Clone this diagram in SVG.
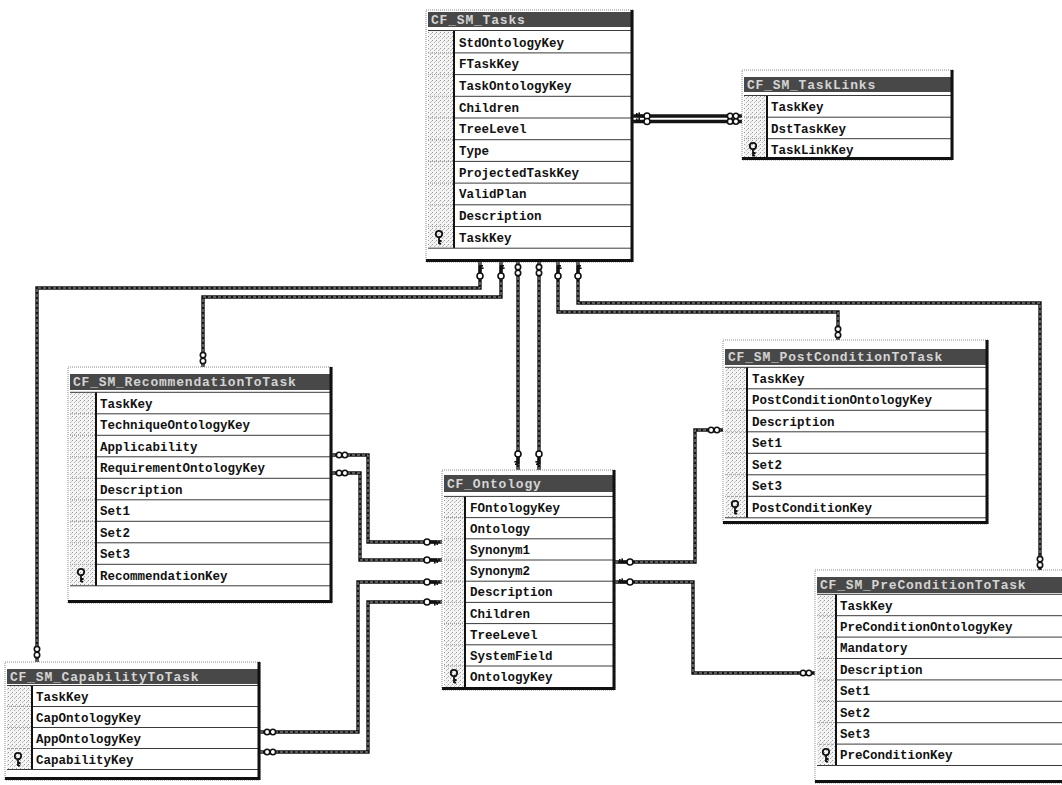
<svg xmlns="http://www.w3.org/2000/svg" xmlns:xlink="http://www.w3.org/1999/xlink" width="1062" height="785" viewBox="0 0 1062 785">
  <defs>
    <style>
      .frame { fill: #fff; stroke: #8a8a8a; stroke-width: 1; stroke-dasharray: 1 1; }
      .shade { fill: none; stroke: #111; stroke-width: 3; }
      .bar { fill: #484848; }
      .ttl { font-family: "Liberation Mono", "DejaVu Sans Mono", monospace; font-weight: bold; font-size: 13px; fill: #d4d4d4; letter-spacing: 0.8px; }
      .fld { font-family: "Liberation Mono", "DejaVu Sans Mono", monospace; font-weight: bold; font-size: 12.5px; fill: #111; }
      .gut { fill: url(#dith); }
      .gline { stroke: #111; stroke-width: 2; }
      .sep { stroke: #3a3a3a; stroke-width: 1; }
      .gsep { stroke: #9a9a9a; stroke-width: 1; stroke-dasharray: 1 1; }
      .wire { fill: none; stroke: #141414; stroke-width: 3.4; stroke-linejoin: miter; }
      .core { fill: none; stroke: #b0b0b0; stroke-width: 0.9; stroke-dasharray: 3 2; }
      .mk { fill: #fff; stroke: #111; stroke-width: 1.6; }
      .pk { fill: none; stroke: #111; stroke-width: 1.8; }
    </style>
    <pattern id="dith" width="4" height="4" patternUnits="userSpaceOnUse">
      <rect width="4" height="4" fill="#f4f4f4"/>
      <rect x="0" y="0" width="1" height="1" fill="#9c9c9c"/>
      <rect x="2" y="2" width="1" height="1" fill="#b4b4b4"/>
      <rect x="3" y="1" width="1" height="1" fill="#c8c8c8"/>
    </pattern>
    <!-- many-side end: two small rings -->
    <g id="inf">
      <circle class="mk" cx="-2.9" cy="0" r="2.7"/>
      <circle class="mk" cx="2.9" cy="0" r="2.7"/>
    </g>
    <!-- one-side end: small key, teeth pointing +x -->
    <g id="key">
      <rect x="-2" y="-1.4" width="8" height="2.8" fill="#111"/>
      <rect x="3" y="0" width="1.6" height="3.6" fill="#111"/>
      <rect x="5.4" y="0" width="1.6" height="3" fill="#111"/>
      <circle class="mk" cx="-4" cy="0" r="3"/>
    </g>
    <!-- primary key glyph in the row gutter -->
    <g id="pkey">
      <circle class="pk" cx="0" cy="-4" r="3.2"/>
      <path class="pk" d="M0 -0.8 V6 M0 3 H2.6 M0 5.6 H2.2"/>
    </g>
  </defs>

  <rect width="1062" height="785" fill="#fff"/>

  <!-- relationship lines -->
  <g id="connectors">
    <path class="wire" d="M480 262 V288 H37 V662"/>
    <path class="wire" d="M501 262 V297 H203 V367"/>
    <path class="wire" d="M518 262 V470"/>
    <path class="wire" d="M539 262 V470"/>
    <path class="wire" d="M558 262 V312 H838 V340"/>
    <path class="wire" d="M578 262 V303 H1040 V570"/>
    <path class="wire" d="M633 116 H742"/>
    <path class="wire" d="M633 121.5 H742"/>
    <path class="wire" d="M332 455 H368 V542 H442"/>
    <path class="wire" d="M332 473 H360 V560 H442"/>
    <path class="wire" d="M260 732 H358 V582 H442"/>
    <path class="wire" d="M260 752 H368 V602 H442"/>
    <path class="wire" d="M615 562 H695 V430 H723"/>
    <path class="wire" d="M615 582 H693 V673 H815"/>

    <path class="core" d="M480 262 V288 H37 V662"/>
    <path class="core" d="M501 262 V297 H203 V367"/>
    <path class="core" d="M518 262 V470"/>
    <path class="core" d="M539 262 V470"/>
    <path class="core" d="M558 262 V312 H838 V340"/>
    <path class="core" d="M578 262 V303 H1040 V570"/>
    <path class="core" d="M332 455 H368 V542 H442"/>
    <path class="core" d="M332 473 H360 V560 H442"/>
    <path class="core" d="M260 732 H358 V582 H442"/>
    <path class="core" d="M260 752 H368 V602 H442"/>
    <path class="core" d="M615 562 H695 V430 H723"/>
    <path class="core" d="M615 582 H693 V673 H815"/>

    <!-- end symbols -->
    <use xlink:href="#key" transform="translate(480 272) rotate(-90)"/>
    <use xlink:href="#key" transform="translate(501 272) rotate(-90)"/>
    <use xlink:href="#inf" transform="translate(518 270) rotate(90)"/>
    <use xlink:href="#inf" transform="translate(539 270) rotate(90)"/>
    <use xlink:href="#key" transform="translate(558 272) rotate(-90)"/>
    <use xlink:href="#key" transform="translate(578 272) rotate(-90)"/>
    <use xlink:href="#key" transform="translate(518 458) rotate(90)"/>
    <use xlink:href="#key" transform="translate(539 458) rotate(90)"/>
    <use xlink:href="#inf" transform="translate(37 652) rotate(90)"/>
    <use xlink:href="#inf" transform="translate(203 358) rotate(90)"/>
    <use xlink:href="#inf" transform="translate(838 332) rotate(90)"/>
    <use xlink:href="#inf" transform="translate(1040 562) rotate(90)"/>
    <use xlink:href="#key" transform="translate(643 116) rotate(180)"/>
    <use xlink:href="#key" transform="translate(643 121.5) rotate(180)"/>
    <use xlink:href="#inf" transform="translate(733 116)"/>
    <use xlink:href="#inf" transform="translate(733 121.5)"/>
    <use xlink:href="#inf" transform="translate(342 455)"/>
    <use xlink:href="#inf" transform="translate(342 473)"/>
    <use xlink:href="#key" transform="translate(431 542)"/>
    <use xlink:href="#key" transform="translate(431 560)"/>
    <use xlink:href="#key" transform="translate(431 582)"/>
    <use xlink:href="#key" transform="translate(431 602)"/>
    <use xlink:href="#inf" transform="translate(270 732)"/>
    <use xlink:href="#inf" transform="translate(270 752)"/>
    <use xlink:href="#key" transform="translate(626 562) rotate(180)"/>
    <use xlink:href="#key" transform="translate(626 582) rotate(180)"/>
    <use xlink:href="#inf" transform="translate(714 430)"/>
    <use xlink:href="#inf" transform="translate(806 673)"/>
  </g>

  <!-- CF_SM_Tasks -->
  <g id="tbl-tasks">
    <rect class="frame" x="426" y="10" width="207" height="252"/>
    <rect class="bar" x="428" y="12" width="203" height="15"/>
    <text class="ttl" x="431" y="24">CF_SM_Tasks</text>
    <rect class="gut" x="428" y="30" width="26" height="218"/>
    <line class="gline" x1="454" y1="30" x2="454" y2="248"/>
    <line class="sep" x1="428" y1="30.5" x2="631" y2="30.5"/>
    <g class="gsep">
      <line x1="428" y1="52.9" x2="453" y2="52.9"/><line x1="428" y1="74.6" x2="453" y2="74.6"/>
      <line x1="428" y1="96.3" x2="453" y2="96.3"/><line x1="428" y1="118" x2="453" y2="118"/>
      <line x1="428" y1="139.7" x2="453" y2="139.7"/><line x1="428" y1="161.4" x2="453" y2="161.4"/>
      <line x1="428" y1="183.1" x2="453" y2="183.1"/><line x1="428" y1="204.8" x2="453" y2="204.8"/>
      <line x1="428" y1="226.5" x2="453" y2="226.5"/>
    </g>
    <g class="sep">
      <line x1="455" y1="52.9" x2="631" y2="52.9"/><line x1="455" y1="74.6" x2="631" y2="74.6"/>
      <line x1="455" y1="96.3" x2="631" y2="96.3"/><line x1="455" y1="118" x2="631" y2="118"/>
      <line x1="455" y1="139.7" x2="631" y2="139.7"/><line x1="455" y1="161.4" x2="631" y2="161.4"/>
      <line x1="455" y1="183.1" x2="631" y2="183.1"/><line x1="455" y1="204.8" x2="631" y2="204.8"/>
      <line x1="455" y1="226.5" x2="631" y2="226.5"/><line x1="428" y1="248.2" x2="631" y2="248.2"/>
    </g>
    <text class="fld" x="459" y="46.5">StdOntologyKey</text>
    <text class="fld" x="459" y="68.2">FTaskKey</text>
    <text class="fld" x="459" y="89.9">TaskOntologyKey</text>
    <text class="fld" x="459" y="111.6">Children</text>
    <text class="fld" x="459" y="133.3">TreeLevel</text>
    <text class="fld" x="459" y="155">Type</text>
    <text class="fld" x="459" y="176.7">ProjectedTaskKey</text>
    <text class="fld" x="459" y="198.4">ValidPlan</text>
    <text class="fld" x="459" y="220.1">Description</text>
    <text class="fld" x="459" y="241.8">TaskKey</text>
    <use xlink:href="#pkey" transform="translate(439 238)"/>
    <path class="shade" d="M632 10 V260.5 H426"/>
  </g>

  <!-- CF_SM_TaskLinks -->
  <g id="tbl-tasklinks">
    <rect class="frame" x="742" y="70" width="211" height="90"/>
    <rect class="bar" x="744" y="77" width="207" height="15"/>
    <text class="ttl" x="747" y="89">CF_SM_TaskLinks</text>
    <rect class="gut" x="744" y="95" width="23" height="63"/>
    <line class="gline" x1="767" y1="95" x2="767" y2="158"/>
    <line class="sep" x1="744" y1="95.5" x2="951" y2="95.5"/>
    <g class="gsep"><line x1="744" y1="117.2" x2="766" y2="117.2"/><line x1="744" y1="138.7" x2="766" y2="138.7"/></g>
    <g class="sep"><line x1="768" y1="117.2" x2="951" y2="117.2"/><line x1="768" y1="138.7" x2="951" y2="138.7"/></g>
    <text class="fld" x="771" y="111">TaskKey</text>
    <text class="fld" x="771" y="132.5">DstTaskKey</text>
    <text class="fld" x="771" y="154">TaskLinkKey</text>
    <use xlink:href="#pkey" transform="translate(753 150)"/>
    <path class="shade" d="M952 70 V158.5 H742"/>
  </g>

  <!-- CF_SM_RecommendationToTask -->
  <g id="tbl-recommendation">
    <rect class="frame" x="68" y="367" width="264" height="236"/>
    <rect class="bar" x="70" y="374" width="260" height="16"/>
    <text class="ttl" x="73" y="386">CF_SM_RecommendationToTask</text>
    <rect class="gut" x="70" y="392" width="26" height="194"/>
    <line class="gline" x1="96" y1="392" x2="96" y2="586"/>
    <line class="sep" x1="70" y1="392.3" x2="330" y2="392.3"/>
    <g class="gsep">
      <line x1="70" y1="413.8" x2="95" y2="413.8"/><line x1="70" y1="435.3" x2="95" y2="435.3"/>
      <line x1="70" y1="456.8" x2="95" y2="456.8"/><line x1="70" y1="478.3" x2="95" y2="478.3"/>
      <line x1="70" y1="499.8" x2="95" y2="499.8"/><line x1="70" y1="521.3" x2="95" y2="521.3"/>
      <line x1="70" y1="542.8" x2="95" y2="542.8"/><line x1="70" y1="564.3" x2="95" y2="564.3"/>
    </g>
    <g class="sep">
      <line x1="97" y1="413.8" x2="330" y2="413.8"/><line x1="97" y1="435.3" x2="330" y2="435.3"/>
      <line x1="97" y1="456.8" x2="330" y2="456.8"/><line x1="97" y1="478.3" x2="330" y2="478.3"/>
      <line x1="97" y1="499.8" x2="330" y2="499.8"/><line x1="97" y1="521.3" x2="330" y2="521.3"/>
      <line x1="97" y1="542.8" x2="330" y2="542.8"/><line x1="97" y1="564.3" x2="330" y2="564.3"/>
      <line x1="70" y1="585.8" x2="330" y2="585.8"/>
    </g>
    <text class="fld" x="100" y="407.5">TaskKey</text>
    <text class="fld" x="100" y="429">TechniqueOntologyKey</text>
    <text class="fld" x="100" y="450.5">Applicability</text>
    <text class="fld" x="100" y="472">RequirementOntologyKey</text>
    <text class="fld" x="100" y="493.5">Description</text>
    <text class="fld" x="100" y="515">Set1</text>
    <text class="fld" x="100" y="536.5">Set2</text>
    <text class="fld" x="100" y="558">Set3</text>
    <text class="fld" x="100" y="579.5">RecommendationKey</text>
    <use xlink:href="#pkey" transform="translate(81 576)"/>
    <path class="shade" d="M331 367 V601.5 H68"/>
  </g>

  <!-- CF_Ontology -->
  <g id="tbl-ontology">
    <rect class="frame" x="442" y="470" width="173" height="220"/>
    <rect class="bar" x="444" y="475" width="169" height="17"/>
    <text class="ttl" x="447" y="488">CF_Ontology</text>
    <rect class="gut" x="444" y="496" width="21" height="191"/>
    <line class="gline" x1="465" y1="496" x2="465" y2="687"/>
    <line class="sep" x1="444" y1="496.4" x2="613" y2="496.4"/>
    <g class="gsep">
      <line x1="444" y1="517.6" x2="464" y2="517.6"/><line x1="444" y1="538.8" x2="464" y2="538.8"/>
      <line x1="444" y1="560" x2="464" y2="560"/><line x1="444" y1="581.2" x2="464" y2="581.2"/>
      <line x1="444" y1="602.4" x2="464" y2="602.4"/><line x1="444" y1="623.6" x2="464" y2="623.6"/>
      <line x1="444" y1="644.8" x2="464" y2="644.8"/><line x1="444" y1="666" x2="464" y2="666"/>
    </g>
    <g class="sep">
      <line x1="466" y1="517.6" x2="613" y2="517.6"/><line x1="466" y1="538.8" x2="613" y2="538.8"/>
      <line x1="466" y1="560" x2="613" y2="560"/><line x1="466" y1="581.2" x2="613" y2="581.2"/>
      <line x1="466" y1="602.4" x2="613" y2="602.4"/><line x1="466" y1="623.6" x2="613" y2="623.6"/>
      <line x1="466" y1="644.8" x2="613" y2="644.8"/><line x1="466" y1="666" x2="613" y2="666"/>
    </g>
    <text class="fld" x="470" y="511.5">FOntologyKey</text>
    <text class="fld" x="470" y="532.7">Ontology</text>
    <text class="fld" x="470" y="553.9">Synonym1</text>
    <text class="fld" x="470" y="575.1">Synonym2</text>
    <text class="fld" x="470" y="596.3">Description</text>
    <text class="fld" x="470" y="617.5">Children</text>
    <text class="fld" x="470" y="638.7">TreeLevel</text>
    <text class="fld" x="470" y="659.9">SystemField</text>
    <text class="fld" x="470" y="681.1">OntologyKey</text>
    <use xlink:href="#pkey" transform="translate(454 677)"/>
    <path class="shade" d="M614 470 V688.5 H442"/>
  </g>

  <!-- CF_SM_PostConditionToTask -->
  <g id="tbl-postcondition">
    <rect class="frame" x="723" y="340" width="265" height="184"/>
    <rect class="bar" x="725" y="349" width="261" height="16"/>
    <text class="ttl" x="728" y="361">CF_SM_PostConditionToTask</text>
    <rect class="gut" x="725" y="367" width="22" height="151"/>
    <line class="gline" x1="747" y1="367" x2="747" y2="518"/>
    <line class="sep" x1="725" y1="367.3" x2="986" y2="367.3"/>
    <g class="gsep">
      <line x1="725" y1="388.8" x2="746" y2="388.8"/><line x1="725" y1="410.3" x2="746" y2="410.3"/>
      <line x1="725" y1="431.8" x2="746" y2="431.8"/><line x1="725" y1="453.3" x2="746" y2="453.3"/>
      <line x1="725" y1="474.8" x2="746" y2="474.8"/><line x1="725" y1="496.3" x2="746" y2="496.3"/>
    </g>
    <g class="sep">
      <line x1="748" y1="388.8" x2="986" y2="388.8"/><line x1="748" y1="410.3" x2="986" y2="410.3"/>
      <line x1="748" y1="431.8" x2="986" y2="431.8"/><line x1="748" y1="453.3" x2="986" y2="453.3"/>
      <line x1="748" y1="474.8" x2="986" y2="474.8"/><line x1="748" y1="496.3" x2="986" y2="496.3"/>
      <line x1="725" y1="517.8" x2="986" y2="517.8"/>
    </g>
    <text class="fld" x="752" y="382.5">TaskKey</text>
    <text class="fld" x="752" y="404">PostConditionOntologyKey</text>
    <text class="fld" x="752" y="425.5">Description</text>
    <text class="fld" x="752" y="447">Set1</text>
    <text class="fld" x="752" y="468.5">Set2</text>
    <text class="fld" x="752" y="490">Set3</text>
    <text class="fld" x="752" y="511.5">PostConditionKey</text>
    <use xlink:href="#pkey" transform="translate(735 508)"/>
    <path class="shade" d="M987 340 V522.5 H723"/>
  </g>

  <!-- CF_SM_PreConditionToTask -->
  <g id="tbl-precondition">
    <rect class="frame" x="815" y="570" width="260" height="213"/>
    <rect class="bar" x="817" y="577" width="250" height="16"/>
    <text class="ttl" x="820" y="589">CF_SM_PreConditionToTask</text>
    <rect class="gut" x="817" y="594" width="19" height="172"/>
    <line class="gline" x1="836" y1="594" x2="836" y2="766"/>
    <line class="sep" x1="817" y1="594.3" x2="1062" y2="594.3"/>
    <g class="gsep">
      <line x1="817" y1="615.7" x2="835" y2="615.7"/><line x1="817" y1="637.1" x2="835" y2="637.1"/>
      <line x1="817" y1="658.5" x2="835" y2="658.5"/><line x1="817" y1="679.9" x2="835" y2="679.9"/>
      <line x1="817" y1="701.3" x2="835" y2="701.3"/><line x1="817" y1="722.7" x2="835" y2="722.7"/>
      <line x1="817" y1="744.1" x2="835" y2="744.1"/>
    </g>
    <g class="sep">
      <line x1="837" y1="615.7" x2="1062" y2="615.7"/><line x1="837" y1="637.1" x2="1062" y2="637.1"/>
      <line x1="837" y1="658.5" x2="1062" y2="658.5"/><line x1="837" y1="679.9" x2="1062" y2="679.9"/>
      <line x1="837" y1="701.3" x2="1062" y2="701.3"/><line x1="837" y1="722.7" x2="1062" y2="722.7"/>
      <line x1="837" y1="744.1" x2="1062" y2="744.1"/><line x1="817" y1="765.5" x2="1062" y2="765.5"/>
    </g>
    <text class="fld" x="840" y="609.5">TaskKey</text>
    <text class="fld" x="840" y="630.9">PreConditionOntologyKey</text>
    <text class="fld" x="840" y="652.3">Mandatory</text>
    <text class="fld" x="840" y="673.7">Description</text>
    <text class="fld" x="840" y="695.1">Set1</text>
    <text class="fld" x="840" y="716.5">Set2</text>
    <text class="fld" x="840" y="737.9">Set3</text>
    <text class="fld" x="840" y="759.3">PreConditionKey</text>
    <use xlink:href="#pkey" transform="translate(826 756)"/>
    <path class="shade" d="M815 781.5 H1062"/>
  </g>

  <!-- CF_SM_CapabilityToTask -->
  <g id="tbl-capability">
    <rect class="frame" x="5" y="662" width="255" height="118"/>
    <rect class="bar" x="7" y="669" width="251" height="15"/>
    <text class="ttl" x="10" y="681">CF_SM_CapabilityToTask</text>
    <rect class="gut" x="7" y="685" width="25" height="85"/>
    <line class="gline" x1="32" y1="685" x2="32" y2="770"/>
    <line class="sep" x1="7" y1="685.5" x2="258" y2="685.5"/>
    <g class="gsep">
      <line x1="7" y1="706.5" x2="31" y2="706.5"/><line x1="7" y1="727.5" x2="31" y2="727.5"/>
      <line x1="7" y1="748.5" x2="31" y2="748.5"/>
    </g>
    <g class="sep">
      <line x1="33" y1="706.5" x2="258" y2="706.5"/><line x1="33" y1="727.5" x2="258" y2="727.5"/>
      <line x1="33" y1="748.5" x2="258" y2="748.5"/><line x1="7" y1="769.5" x2="258" y2="769.5"/>
    </g>
    <text class="fld" x="36" y="700.5">TaskKey</text>
    <text class="fld" x="36" y="721.5">CapOntologyKey</text>
    <text class="fld" x="36" y="742.5">AppOntologyKey</text>
    <text class="fld" x="36" y="763.5">CapabilityKey</text>
    <use xlink:href="#pkey" transform="translate(18 760)"/>
    <path class="shade" d="M259 662 V778.5 H5"/>
  </g>
</svg>
